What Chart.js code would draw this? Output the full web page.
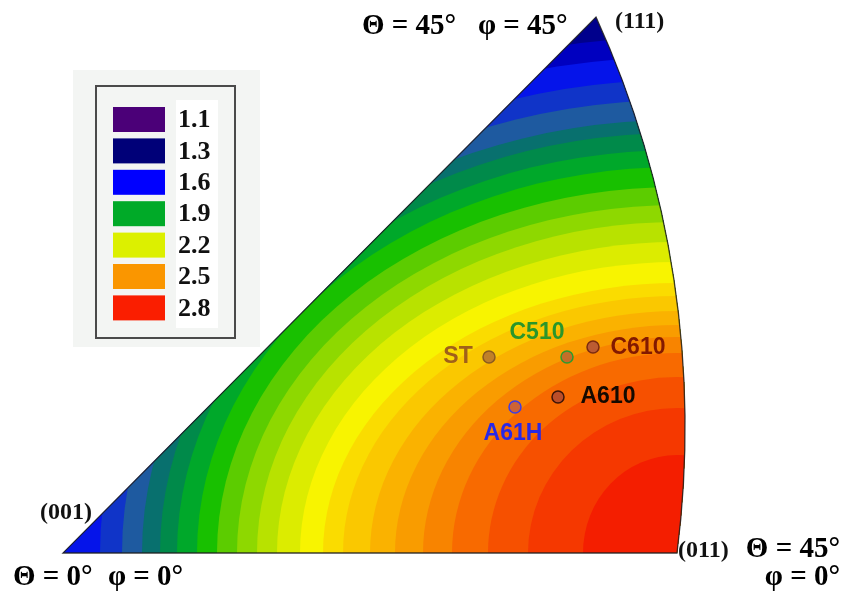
<!DOCTYPE html>
<html><head><meta charset="utf-8">
<script src="https://cdn.jsdelivr.net/npm/chart.js@4.4.0/dist/chart.umd.min.js"></script>
<style>html,body{margin:0;padding:0;background:#fff;}canvas{display:block;}</style>
</head><body>
<canvas id="c" width="843" height="595"></canvas>
<script>
// ---- data (figure units: (001) at origin, y upward) ----
const poleNames = ['(001)', '(011)', '(111)'];
const poleX = [0, 614, 533];
const poleY = [0, 0, 536];
const arcMidX = 619, arcMidY = 203;          // a point on the (011)-(111) edge

// iso-value boundaries around (011): horizontal / vertical semi-axes, outer -> inner
const isoA = [630, 615, 577, 555, 535, 517, 500, 480, 460, 440, 420, 400, 377, 354, 334, 307, 282, 254, 225, 189, 149, 94];
const isoB = [516, 496, 473, 453, 433, 420, 403, 386, 366, 348, 331, 311, 291, 270, 257, 242, 228, 216, 200, 176, 145, 98];
const bandColors = ['#00008c', '#0000c0', '#0514ea', '#1034c8', '#1e5aa0', '#08706e', '#008a4a', '#00a82a',
  '#18c000', '#5ccc00', '#8ed800', '#b8e200', '#dcec00', '#f8f400', '#fadc00', '#fac800', '#fab200',
  '#f99c00', '#f88400', '#f86a00', '#f65000', '#f53800', '#f41e00'];

const legendLevels = ['1.1', '1.3', '1.6', '1.9', '2.2', '2.5', '2.8'];
const legendColors = ['#4b0078', '#000078', '#0000ff', '#00aa28', '#dcf000', '#fa9600', '#fa1e00'];

const samples = ['ST', 'C510', 'C610', 'A610', 'A61H'];
const sampleX = [426, 504, 530, 495, 452];
const sampleY = [196, 196, 206, 156, 146];
const sampleFill = ['rgba(185,120,45,0.9)', 'rgba(190,105,45,0.9)', 'rgba(180,85,55,0.9)', 'rgba(180,75,45,0.9)', 'rgba(200,95,60,0.9)'];
const sampleBorder = ['#8a5a20', '#2e9a2e', '#7a2a10', '#3c1408', '#3c3ce6'];
const sampleTextColor = ['#a0601a', '#2a962a', '#821900', '#140a00', '#2828e6'];

// ---- helpers ----
function circ(a, b, c) {
  const d = 2 * (a[0] * (b[1] - c[1]) + b[0] * (c[1] - a[1]) + c[0] * (a[1] - b[1]));
  const A = a[0] ** 2 + a[1] ** 2, B = b[0] ** 2 + b[1] ** 2, C = c[0] ** 2 + c[1] ** 2;
  const ux = (A * (b[1] - c[1]) + B * (c[1] - a[1]) + C * (a[1] - b[1])) / d;
  const uy = (A * (c[0] - b[0]) + B * (a[0] - c[0]) + C * (b[0] - a[0])) / d;
  return { x: ux, y: uy, r: Math.hypot(a[0] - ux, a[1] - uy) };
}
function pole(chart, i) {
  return [chart.scales.x.getPixelForValue(poleX[i]), chart.scales.y.getPixelForValue(poleY[i])];
}
function triPath(chart, ctx) {
  const p0 = pole(chart, 0), p1 = pole(chart, 1), p2 = pole(chart, 2);
  const m = [chart.scales.x.getPixelForValue(arcMidX), chart.scales.y.getPixelForValue(arcMidY)];
  const c = circ(p1, m, p2);
  const a1 = Math.atan2(p1[1] - c.y, p1[0] - c.x), a2 = Math.atan2(p2[1] - c.y, p2[0] - c.x);
  ctx.beginPath();
  ctx.moveTo(p0[0], p0[1]);
  ctx.lineTo(p1[0], p1[1]);
  ctx.arc(c.x, c.y, c.r, a1, a2, true);
  ctx.closePath();
}
function txt(ctx, s, x, y, font, color, align) {
  ctx.font = font; ctx.fillStyle = color; ctx.textAlign = align || 'left'; ctx.textBaseline = 'middle';
  ctx.fillText(s, x, y);
}

const ipfPlugin = {
  id: 'ipf',
  beforeDatasetsDraw(chart) {
    const ctx = chart.ctx, xs = chart.scales.x, ys = chart.scales.y;
    const cx = xs.getPixelForValue(poleX[1]), cy = ys.getPixelForValue(poleY[1]);
    ctx.save();
    triPath(chart, ctx);
    ctx.clip();
    ctx.fillStyle = bandColors[0];
    ctx.fillRect(0, 0, chart.width, chart.height);
    for (let i = 0; i < isoA.length; i++) {
      const rx = xs.getPixelForValue(poleX[1] + isoA[i]) - cx;
      const ry = cy - ys.getPixelForValue(poleY[1] + isoB[i]);
      ctx.beginPath();
      ctx.ellipse(cx, cy, rx, ry, 0, 0, Math.PI * 2);
      ctx.fillStyle = bandColors[i + 1];
      ctx.fill();
    }
    ctx.restore();
    ctx.save();
    triPath(chart, ctx);
    ctx.lineWidth = 1.3;
    ctx.strokeStyle = 'rgba(30,30,30,0.85)';
    ctx.stroke();
    ctx.restore();
  },
  afterDraw(chart) {
    const ctx = chart.ctx, xs = chart.scales.x, ys = chart.scales.y;
    ctx.save();
    const serif = 'bold 29px "Liberation Serif", "Times New Roman", serif';
    const poleFont = 'bold 24px "Liberation Serif", "Times New Roman", serif';
    const p0 = pole(chart, 0), p1 = pole(chart, 1), p2 = pole(chart, 2);
    // pole labels
    txt(ctx, poleNames[0], p0[0] + 29, p0[1] - 40, poleFont, '#111', 'right');
    txt(ctx, poleNames[1], p1[0] + 1, p1[1] - 2, poleFont, '#111', 'left');
    txt(ctx, poleNames[2], p2[0] + 19, p2[1] + 5, poleFont, '#111', 'left');
    // angle labels
    txt(ctx, 'Θ = 45°', 362, 27, serif, '#000');
    txt(ctx, 'φ = 45°', 478, 27, serif, '#000');
    txt(ctx, 'Θ = 0°', 13, 578, serif, '#000');
    txt(ctx, 'φ = 0°', 108, 578, serif, '#000');
    txt(ctx, 'Θ = 45°', 840, 550, serif, '#000', 'right');
    txt(ctx, 'φ = 0°', 840, 578, serif, '#000', 'right');
    // sample labels
    const sf = 'bold 23px "Liberation Sans", Arial, sans-serif';
    const off = [[-31, 0], [-30, -24], [45, 1], [50, 0], [-2, 27]];
    for (let i = 0; i < samples.length; i++) {
      const px = xs.getPixelForValue(sampleX[i]), py = ys.getPixelForValue(sampleY[i]);
      txt(ctx, samples[i], px + off[i][0], py + off[i][1], sf, sampleTextColor[i], 'center');
    }
    // legend
    ctx.fillStyle = '#f3f5f3';
    ctx.fillRect(73, 70, 187, 277);
    ctx.fillStyle = '#ffffff';
    ctx.fillRect(176, 100, 42, 228);
    ctx.lineWidth = 2;
    ctx.strokeStyle = '#4a4a4a';
    ctx.strokeRect(96, 86, 139, 252);
    for (let i = 0; i < legendLevels.length; i++) {
      const yc = 119.5 + i * 31.4;
      ctx.fillStyle = legendColors[i];
      ctx.fillRect(113, yc - 12.5, 52, 25);
      txt(ctx, legendLevels[i], 178, yc + 1, 'bold 26px "Liberation Serif", "Times New Roman", serif', '#111');
    }
    ctx.restore();
  }
};

new Chart(document.getElementById('c'), {
  type: 'scatter',
  data: {
    datasets: [{
      label: 'samples',
      data: samples.map((s, i) => ({ x: sampleX[i], y: sampleY[i] })),
      pointRadius: 6,
      pointBackgroundColor: sampleFill,
      pointBorderColor: sampleBorder,
      pointBorderWidth: 1.5,
      showLine: false
    }]
  },
  options: {
    responsive: false,
    devicePixelRatio: 1,
    animation: false,
    events: [],
    layout: { padding: 0, autoPadding: false },
    plugins: { legend: { display: false }, tooltip: { enabled: false } },
    scales: {
      x: { type: 'linear', min: -63, max: 780, display: false },
      y: { type: 'linear', min: -42, max: 553, display: false }
    }
  },
  plugins: [ipfPlugin]
});
</script>
</body></html>
